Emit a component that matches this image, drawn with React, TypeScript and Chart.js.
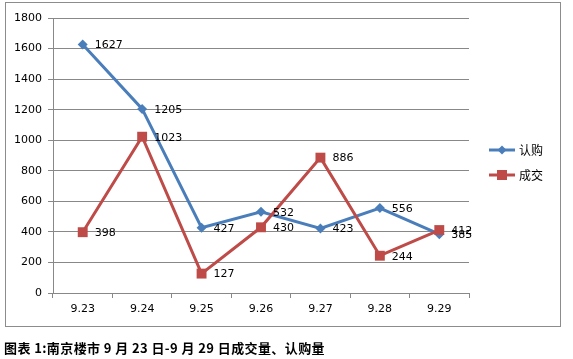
import React, { useEffect, useRef } from "react";
import { Chart, registerables } from "chart.js";

Chart.register(...registerables);

const categories = ["9.23", "9.24", "9.25", "9.26", "9.27", "9.28", "9.29"];
const subscribed = [1627, 1205, 427, 532, 423, 556, 385]; // 认购
const deals = [398, 1023, 127, 430, 886, 244, 412]; // 成交
const seriesNames = ["认购", "成交"];
const caption = "图表 1:南京楼市 9 月 23 日-9 月 29 日成交量、认购量";

const BLUE = "#4A7EBB";
const RED = "#BE4B48";

const labelPlugin = {
  id: "pointLabels",
  afterDatasetsDraw(chart: any) {
    const ctx = chart.ctx;
    ctx.save();
    ctx.font = "11px 'DejaVu Sans'";
    ctx.fillStyle = "#000";
    ctx.textAlign = "left";
    ctx.textBaseline = "middle";
    [1, 0].forEach((di) => {
      const meta = chart.getDatasetMeta(di);
      const data = chart.data.datasets[di].data;
      meta.data.forEach((pt: any, i: number) => {
        ctx.fillText(String(data[i]), pt.x + 12, pt.y + 1);
      });
    });
    ctx.restore();
  },
};

const legendPlugin = {
  id: "customLegend",
  afterDraw(chart: any) {
    const ctx = chart.ctx;
    const items = [
      { name: seriesNames[0], color: BLUE, style: "diamond", y: 150 },
      { name: seriesNames[1], color: RED, style: "square", y: 175 },
    ];
    ctx.save();
    items.forEach((it) => {
      ctx.strokeStyle = it.color;
      ctx.lineWidth = 3;
      ctx.beginPath();
      ctx.moveTo(489, it.y);
      ctx.lineTo(515, it.y);
      ctx.stroke();
      ctx.fillStyle = it.color;
      ctx.beginPath();
      if (it.style === "diamond") {
        ctx.moveTo(502, it.y - 4.5);
        ctx.lineTo(506.5, it.y);
        ctx.lineTo(502, it.y + 4.5);
        ctx.lineTo(497.5, it.y);
        ctx.closePath();
      } else {
        ctx.rect(497, it.y - 5, 10, 10);
      }
      ctx.fill();
      ctx.fillStyle = "#000";
      ctx.font = "12px 'Noto Sans CJK SC'";
      ctx.textAlign = "left";
      ctx.textBaseline = "middle";
      ctx.fillText(it.name, 519, it.y);
    });
    ctx.restore();
  },
};

export default function App() {
  const ref = useRef<HTMLCanvasElement>(null);
  useEffect(() => {
    if (!ref.current) return;
    const chart = new Chart(ref.current, {
      type: "line",
      data: {
        labels: categories,
        datasets: [
          {
            label: seriesNames[0],
            data: subscribed,
            borderColor: BLUE,
            backgroundColor: BLUE,
            borderWidth: 3,
            pointStyle: "rectRot",
            pointRadius: 5,
            pointBorderWidth: 0,
            pointBackgroundColor: BLUE,
            tension: 0,
            order: 1,
          },
          {
            label: seriesNames[1],
            data: deals,
            borderColor: RED,
            backgroundColor: RED,
            borderWidth: 3,
            pointStyle: "rect",
            pointRadius: 7,
            pointBorderWidth: 0,
            pointBackgroundColor: RED,
            tension: 0,
            order: 0,
          },
        ],
      },
      options: {
        responsive: false,
        animation: false,
        layout: { padding: { left: 5, top: 18, right: 104, bottom: 0 } },
        plugins: { legend: { display: false }, tooltip: { enabled: false } },
        scales: {
          x: {
            type: "category",
            offset: true,
            grid: { offset: true, drawOnChartArea: false, drawTicks: true, tickLength: 5, color: "#888" },
            border: { color: "#888", width: 1 },
            ticks: { color: "#000", font: { family: "'DejaVu Sans'", size: 11 }, padding: 5, maxRotation: 0 },
            afterFit: (s: any) => { s.height = 66; },
          },
          y: {
            min: 0,
            max: 1800,
            ticks: {
              stepSize: 200,
              color: "#000",
              font: { family: "'DejaVu Sans'", size: 11 },
              padding: 6,
              callback: (v: any) => String(v),
            },
            grid: { color: "#888", tickLength: 5, drawTicks: true },
            border: { color: "#888", width: 1 },
            afterFit: (s: any) => { s.width = 48; },
          },
        },
      },
      plugins: [labelPlugin, legendPlugin],
    } as any);
    return () => chart.destroy();
  }, []);

  return (
    <div style={{ position: "absolute", left: 0, top: 0, width: 573, height: 359, background: "#fff" }}>
      <div
        style={{
          position: "absolute",
          left: 5,
          top: 2,
          width: 554,
          height: 323,
          border: "1px solid #8c8c8c",
        }}
      />
      <canvas
        ref={ref}
        width={573}
        height={359}
        style={{ position: "absolute", left: 0, top: 0, width: 573, height: 359 }}
      />
      <div
        style={{
          position: "absolute",
          left: 4,
          top: 339,
          fontFamily: "'Noto Sans CJK SC', sans-serif",
          fontSize: 13,
          fontWeight: 600,
          letterSpacing: "0.4px",
          lineHeight: "18px",
          color: "#000",
          whiteSpace: "nowrap",
        }}
      >
        {caption}
      </div>
    </div>
  );
}
